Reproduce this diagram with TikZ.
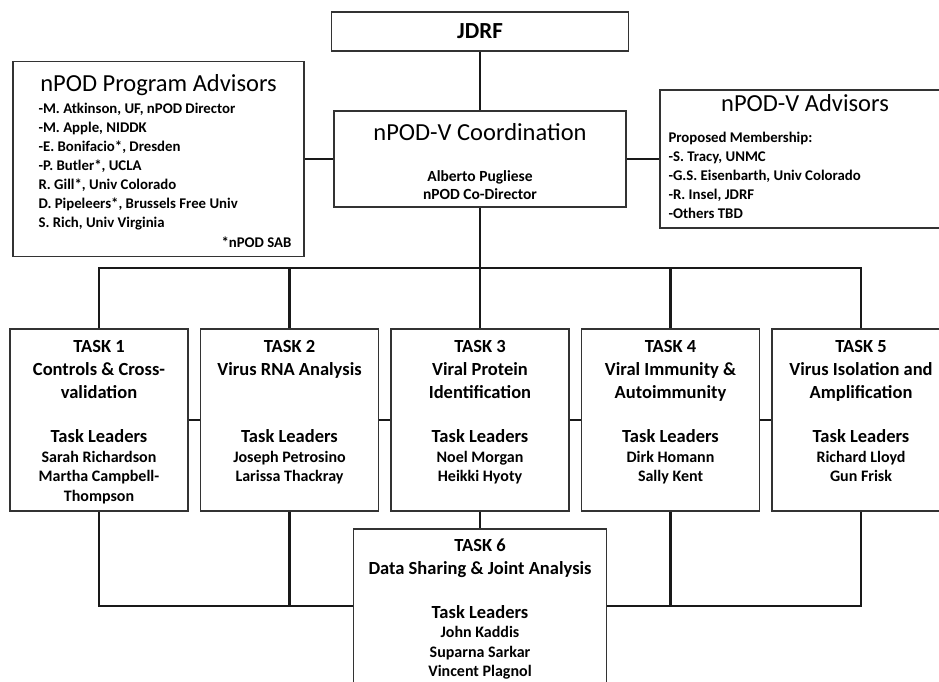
\documentclass[tikz,border=0pt]{standalone}
\usepackage{fontspec}
\setmainfont{Carlito}
\usetikzlibrary{positioning}

\tikzset{
  orgbox/.style={draw=black!80,line width=1.4pt,fill=white,inner sep=0pt},
  link/.style={draw=black!90,line width=2.2pt},
  txt/.style={inner sep=0pt,anchor=north,align=center},
  headtxt/.style={txt,font=\fontsize{24.5}{29}\selectfont},
  listtxt/.style={txt,align=left,font=\bfseries\fontsize{14.8}{19}\selectfont},
  tasktxt/.style={txt,font=\bfseries\fontsize{18.5}{23}\selectfont},
  nametxt/.style={txt,font=\bfseries\fontsize{16}{19.5}\selectfont},
}

\begin{document}
\begin{tikzpicture}[x=1pt,y=-1pt]
  \useasboundingbox (0,0) rectangle (939,682);
  % top level
  \node[orgbox,minimum width=297pt,minimum height=39pt,font=\bfseries\fontsize{23}{27}\selectfont] (jdrf) at (480,31.5) {JDRF};
  \node[orgbox,minimum width=292pt,minimum height=96pt] (coord) at (480,159) {};
  \node[headtxt,below=9.7pt of coord.north] (coordttl) {\strut nPOD-V Coordination};
  \node[listtxt,align=center,font=\bfseries\fontsize{15.5}{18}\selectfont,below=58.4pt of coord.north] (coordlead) {\strut Alberto Pugliese\\nPOD Co-Director};
  % advisors
  \node[orgbox,minimum width=291pt,minimum height=195pt] (padv) at (158.5,159) {};
  \node[headtxt,below=10.7pt of padv.north] (padvttl) {\strut nPOD Program Advisors};
  \node[listtxt,below right=38.7pt and 26pt of padv.north west] (padvlist) {\strut -M. Atkinson, UF, nPOD Director\\-M. Apple, NIDDK\\-E. Bonifacio*, Dresden\\-P. Butler*, UCLA\\R. Gill*, Univ Colorado\\D. Pipeleers*, Brussels Free Univ\\S. Rich, Univ Virginia};
  \node[listtxt,below left=172.7pt and 13pt of padv.north east] (padvsab) {\strut *nPOD SAB};
  \node[orgbox,minimum width=290pt,minimum height=138pt] (vadv) at (805,159) {};
  \node[headtxt,below=1.7pt of vadv.north] (vadvttl) {\strut nPOD-V Advisors};
  \node[listtxt,below right=39.7pt and 9pt of vadv.north west] (vadvlist) {\strut Proposed Membership:\\-S. Tracy, UNMC\\-G.S. Eisenbarth, Univ Colorado\\-R. Insel, JDRF\\-Others TBD};
  \draw[link] (jdrf) -- (coord);
  \draw[link] (padv) -- (coord);
  \draw[link] (coord) -- (vadv);
  % tasks
  \foreach \i/\x/\ttl/\lead in {
      1/99/{TASK 1\\Controls \& Cross-\\validation}/{Sarah Richardson\\Martha Campbell-\\Thompson},
      2/289.5/{TASK 2\\Virus RNA Analysis}/{Joseph Petrosino\\Larissa Thackray},
      3/480/{TASK 3\\Viral Protein\\Identification}/{Noel Morgan\\Heikki Hyoty},
      4/670.5/{TASK 4\\Viral Immunity \&\\Autoimmunity}/{Dirk Homann\\Sally Kent},
      5/861/{TASK 5\\Virus Isolation and\\Amplification}/{Richard Lloyd\\Gun Frisk}}{
    \node[orgbox,minimum width=178pt,minimum height=182pt] (t\i) at (\x,420) {};
    \node[tasktxt,below=7.9pt of t\i.north] (t\i ttl) {\strut\ttl};
    \node[tasktxt,below=97.9pt of t\i.north] (t\i head) {\strut Task Leaders};
    \node[nametxt,below=120.3pt of t\i.north] (t\i lead) {\strut\lead};
  }
  \node[orgbox,minimum width=253pt,minimum height=171pt] (t6) at (480,614.5) {};
  \node[tasktxt,below=6.9pt of t6.north] (t6ttl) {\strut TASK 6\\Data Sharing \& Joint Analysis};
  \node[tasktxt,below=73.9pt of t6.north] (t6head) {\strut Task Leaders};
  \node[nametxt,below=95.8pt of t6.north] (t6lead) {\strut John Kaddis\\Suparna Sarkar\\Vincent Plagnol};
  % connectors
  \coordinate (bus) at (480,268);
  \coordinate (low) at (480,606);
  \draw[link] (coord) -- (bus);
  \draw[link] (t1) |- (bus) -| (t5);
  \foreach \i in {2,3,4}
    \draw[link] (t\i) -- (t\i |- bus);
  \foreach \i/\j in {1/2,2/3,3/4,4/5}
    \draw[link] (t\i) -- (t\j);
  \draw[link] (t3) -- (t6);
  \draw[link] (t1) |- (t6.west |- low);
  \draw[link] (t2) -- (t2 |- low);
  \draw[link] (t5) |- (t6.east |- low);
  \draw[link] (t4) -- (t4 |- low);
\end{tikzpicture}
\end{document}
